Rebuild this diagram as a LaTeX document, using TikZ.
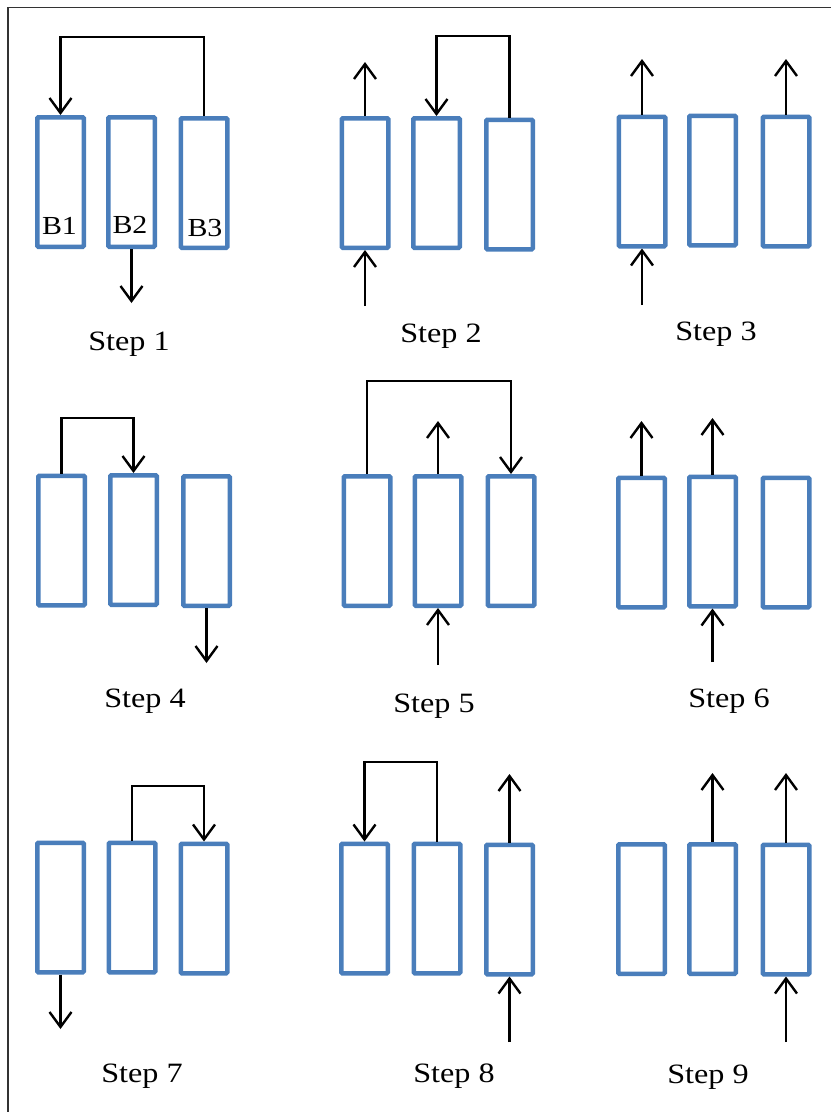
\documentclass[tikz,border=0pt]{standalone}
\usepackage{fontspec}
\setmainfont{Liberation Serif}[FakeStretch=1.15]
\usetikzlibrary{arrows.meta}
\definecolor{boxblue}{RGB}{74,126,187}
\begin{document}
\begin{tikzpicture}[x=1pt,y=-1pt,
  tank/.style={draw=boxblue, line width=4.5pt, minimum width=46.5pt,
    minimum height=129.5pt, inner sep=0pt, rounded corners=1pt},
  flow/.style={line width=2.4pt, -{Straight Barb[length=15pt,width=22pt]}},
  steplabel/.style={font=\fontsize{28}{32}\selectfont, inner sep=0pt},
  tanklabel/.style={font=\fontsize{26}{30}\selectfont, inner sep=0pt}]
\useasboundingbox (0,0) rectangle (831,1112);

% page frame (only top and left edges fall inside)
\coordinate (fbl) at (8,1112);
\coordinate (ftl) at (8,7.5);
\coordinate (ftr) at (831,7.5);
\draw[line width=1.5pt, black!80] (fbl) -- (ftl) -- (ftr);

% ---------- Step 1 ----------
\node[tank] (s1a) at (60.5,182) {};
\node[tank] (s1b) at (131.5,182) {};
\node[tank] (s1c) at (204,183) {};
\node[tanklabel] (l1a) at (59.5,226) {B1};
\node[tanklabel] (l1b) at (130,225) {B2};
\node[tanklabel] (l1c) at (205,228) {B3};
\coordinate (h1) at (0,37);
\coordinate (e1b) at (0,303);
\draw[flow] (s1c.north) -- (s1c.north |- h1) -| (s1a.north);
\draw[flow] (s1b.south) -- (s1b.south |- e1b);
\node[steplabel] (st1) at (129,344) {Step 1};

% ---------- Step 2 ----------
\node[tank] (s2a) at (365,183) {};
\node[tank] (s2b) at (436.5,183) {};
\node[tank] (s2c) at (509.5,184.5) {};
\coordinate (h2) at (0,36);
\coordinate (u2a) at (0,62);
\coordinate (d2a) at (0,306);
\draw[flow] (s2c.north) -- (s2c.north |- h2) -| (s2b.north);
\draw[flow] (s2a.north) -- (s2a.north |- u2a);
\draw[flow] (s2a.south |- d2a) -- (s2a.south);
\node[steplabel] (st2) at (441,336) {Step 2};

% ---------- Step 3 ----------
\node[tank] (s3a) at (642,181.5) {};
\node[tank] (s3b) at (712.5,180.5) {};
\node[tank] (s3c) at (786,181.5) {};
\coordinate (u3) at (0,59);
\coordinate (d3a) at (0,305);
\draw[flow] (s3a.north) -- (s3a.north |- u3);
\draw[flow] (s3c.north) -- (s3c.north |- u3);
\draw[flow] (s3a.south |- d3a) -- (s3a.south);
\node[steplabel] (st3) at (716,334) {Step 3};

% ---------- Step 4 ----------
\node[tank] (s4a) at (61.5,540.5) {};
\node[tank] (s4b) at (133.5,540) {};
\node[tank] (s4c) at (206.5,541) {};
\coordinate (h4) at (0,418);
\coordinate (e4c) at (0,663);
\draw[flow] (s4a.north) -- (s4a.north |- h4) -| (s4b.north);
\draw[flow] (s4c.south) -- (s4c.south |- e4c);
\node[steplabel] (st4) at (145,701) {Step 4};

% ---------- Step 5 ----------
\node[tank] (s5a) at (367,541) {};
\node[tank] (s5b) at (438,541) {};
\node[tank] (s5c) at (511,541) {};
\coordinate (h5) at (0,381);
\coordinate (u5b) at (0,421);
\coordinate (d5b) at (0,665);
\draw[flow] (s5a.north) -- (s5a.north |- h5) -| (s5c.north);
\draw[flow] (s5b.north) -- (s5b.north |- u5b);
\draw[flow] (s5b.south |- d5b) -- (s5b.south);
\node[steplabel] (st5) at (434,706) {Step 5};

% ---------- Step 6 ----------
\node[tank] (s6a) at (641.5,542.5) {};
\node[tank] (s6b) at (712.5,541.5) {};
\node[tank] (s6c) at (786,542.5) {};
\coordinate (u6a) at (0,421);
\coordinate (u6b) at (0,418);
\coordinate (d6b) at (0,662);
\draw[flow] (s6a.north) -- (s6a.north |- u6a);
\draw[flow] (s6b.north) -- (s6b.north |- u6b);
\draw[flow] (s6b.south |- d6b) -- (s6b.south);
\node[steplabel] (st6) at (729,701) {Step 6};

% ---------- Step 7 ----------
\node[tank] (s7a) at (60.5,907.5) {};
\node[tank] (s7b) at (132,907.5) {};
\node[tank] (s7c) at (204,908.5) {};
\coordinate (h7) at (0,786);
\coordinate (e7a) at (0,1029);
\draw[flow] (s7b.north) -- (s7b.north |- h7) -| (s7c.north);
\draw[flow] (s7a.south) -- (s7a.south |- e7a);
\node[steplabel] (st7) at (142,1076) {Step 7};

% ---------- Step 8 ----------
\node[tank] (s8a) at (364.5,908.5) {};
\node[tank] (s8b) at (437,908.5) {};
\node[tank] (s8c) at (509.5,909.5) {};
\coordinate (h8) at (0,762);
\coordinate (u8c) at (0,774);
\coordinate (d8c) at (0,1042);
\draw[flow] (s8b.north) -- (s8b.north |- h8) -| (s8a.north);
\draw[flow] (s8c.north) -- (s8c.north |- u8c);
\draw[flow] (s8c.south |- d8c) -- (s8c.south);
\node[steplabel] (st8) at (454,1076) {Step 8};

% ---------- Step 9 ----------
\node[tank] (s9a) at (641.5,909) {};
\node[tank] (s9b) at (712.5,909) {};
\node[tank] (s9c) at (786,909.5) {};
\coordinate (u9) at (0,773);
\coordinate (d9c) at (0,1042);
\draw[flow] (s9b.north) -- (s9b.north |- u9);
\draw[flow] (s9c.north) -- (s9c.north |- u9);
\draw[flow] (s9c.south |- d9c) -- (s9c.south);
\node[steplabel] (st9) at (708,1077) {Step 9};
\end{tikzpicture}
\end{document}
